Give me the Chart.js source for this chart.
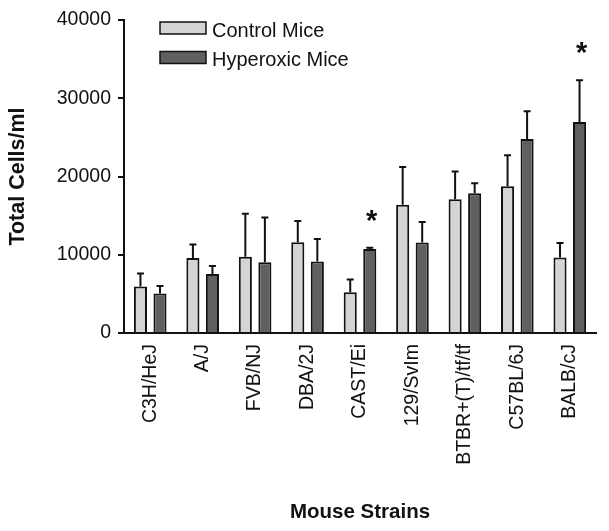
<!DOCTYPE html>
<html><head><meta charset="utf-8">
<script src="https://cdn.jsdelivr.net/npm/chart.js@4/dist/chart.umd.min.js"></script>
<style>html,body{margin:0;padding:0;background:#fff;} #wrap{width:609px;height:531px;}</style>
</head><body><div id="wrap"><canvas id="c" width="609" height="531"></canvas></div>
<script>
const strains = ["C3H/HeJ", "A/J", "FVB/NJ", "DBA/2J", "CAST/Ei", "129/SvIm", "BTBR+(T)/tf/tf", "C57BL/6J", "BALB/cJ"];
const controlMeans = [5950, 9600, 9750, 11600, 5200, 16400, 17100, 18750, 9650];
const controlErrors = [1650, 1700, 5500, 2700, 1650, 4800, 3550, 3950, 1850];
const hyperoxicMeans = [5050, 7550, 9050, 9150, 10750, 11550, 17850, 24800, 26950];
const hyperoxicErrors = [950, 1000, 5700, 2850, 150, 2650, 1300, 3550, 5350];
const hyperoxicSignificant = [false, false, false, false, true, false, false, false, true];
const yTicks = [0, 10000, 20000, 30000, 40000];
const seriesNames = ["Control Mice", "Hyperoxic Mice"];

const FONT = '"Liberation Sans", Arial, sans-serif';

const errorBars = {
  id: 'errorBars',
  afterDatasetsDraw(chart) {
    const ctx = chart.ctx, ys = chart.scales.y;
    chart.data.datasets.forEach((ds, i) => {
      const meta = chart.getDatasetMeta(i);
      meta.data.forEach((el, j) => {
        const top = ys.getPixelForValue(ds.data[j] + ds.errors[j]);
        ctx.save();
        ctx.strokeStyle = '#111';
        ctx.lineWidth = 2;
        ctx.beginPath();
        ctx.moveTo(el.x, el.y);
        ctx.lineTo(el.x, top);
        ctx.moveTo(el.x - 3.5, top);
        ctx.lineTo(el.x + 3.5, top);
        ctx.stroke();
        if (ds.significant && ds.significant[j]) {
          ctx.fillStyle = '#111';
          ctx.font = 'bold 29px ' + FONT;
          ctx.textAlign = 'center';
          ctx.textBaseline = 'alphabetic';
          ctx.fillText('*', el.x + 2, top - 18);
        }
        ctx.restore();
      });
    });
  }
};

const customLegend = {
  id: 'customLegend',
  afterDraw(chart) {
    const ctx = chart.ctx, a = chart.chartArea;
    ctx.save();
    chart.data.datasets.forEach((ds, i) => {
      const bx = a.left + 36, by = a.top + 2 + i * 29.5;
      ctx.fillStyle = ds.backgroundColor;
      ctx.fillRect(bx, by, 46, 12);
      ctx.strokeStyle = '#111';
      ctx.lineWidth = 1.5;
      ctx.strokeRect(bx, by, 46, 12);
      ctx.fillStyle = '#111';
      ctx.font = '20px ' + FONT;
      ctx.textAlign = 'left';
      ctx.textBaseline = 'alphabetic';
      ctx.fillText(ds.label, bx + 52, by + 14.5);
    });
    ctx.restore();
  }
};

new Chart(document.getElementById('c'), {
  type: 'bar',
  data: {
    labels: strains,
    datasets: [
      { label: seriesNames[0], data: controlMeans, errors: controlErrors,
        backgroundColor: '#d4d4d4', borderColor: '#111', borderWidth: 2,
        categoryPercentage: 0.745, barPercentage: 0.67 },
      { label: seriesNames[1], data: hyperoxicMeans, errors: hyperoxicErrors, significant: hyperoxicSignificant,
        backgroundColor: '#606060', borderColor: '#111', borderWidth: 2,
        categoryPercentage: 0.745, barPercentage: 0.67 }
    ]
  },
  options: {
    responsive: false,
    animation: false,
    layout: { padding: { left: 0, right: 13, top: 20, bottom: 0 } },
    plugins: { legend: { display: false }, tooltip: { enabled: false } },
    scales: {
      x: {
        grid: { display: false },
        border: { display: true, color: '#111', width: 2 },
        ticks: { color: '#111', font: { family: FONT, size: 19.5 }, minRotation: 90, maxRotation: 90, padding: 3, autoSkip: false },
        title: { display: true, text: 'Mouse Strains', color: '#111', font: { family: FONT, size: 20.5, weight: 'bold' }, padding: { top: 0, bottom: 6 } },
        afterFit(s) { s.height = 198; }
      },
      y: {
        min: 0, max: 40000,
        afterBuildTicks(s) { s.ticks = yTicks.map(v => ({ value: v })); },
        grid: { drawOnChartArea: false, tickLength: 6, color: '#111', lineWidth: 2 },
        border: { display: true, color: '#111', width: 2 },
        ticks: { color: '#111', font: { family: FONT, size: 19.5 }, padding: 7, callback: v => String(v) },
        title: { display: true, text: 'Total Cells/ml', color: '#111', font: { family: FONT, size: 21.5, weight: 'bold' }, padding: { top: 5, bottom: 0 } },
        afterFit(s) { s.width = 124; }
      }
    }
  },
  plugins: [errorBars, customLegend]
});
</script>
</body></html>
